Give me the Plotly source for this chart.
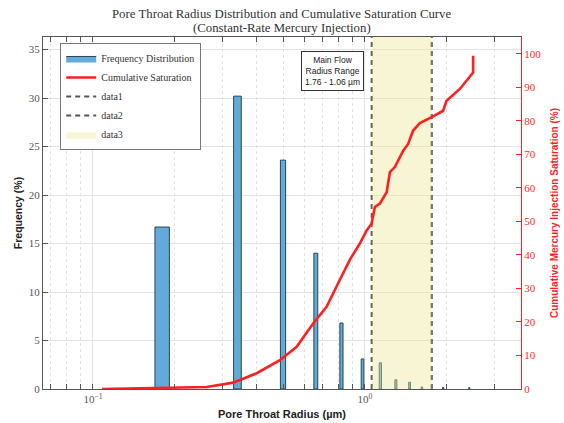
import plotly.graph_objects as go
import math

# ---- data ----
radius_bins = [0.18, 0.34, 0.50, 0.66, 0.82, 0.98, 1.14, 1.30, 1.46, 1.62, 1.94, 2.42]
frequency = [16.7, 30.2, 23.6, 14.0, 6.8, 3.1, 2.7, 0.95, 0.7, 0.2, 0.15, 0.15]
bar_width = 0.022

curve_radius = [0.108, 0.15, 0.2, 0.262, 0.328, 0.40, 0.487, 0.561, 0.646, 0.723,
                0.809, 0.881, 0.958, 1.015, 1.058, 1.088, 1.135, 1.202, 1.236, 1.289,
                1.383, 1.442, 1.505, 1.593, 1.782, 1.940, 1.996, 2.234, 2.50, 2.50]
curve_sat = [0, 0.3, 0.4, 0.6, 1.9, 4.7, 8.6, 12.6, 19.6, 24.5,
             32.6, 38.6, 43.4, 47.3, 49.3, 54.3, 55.3, 58.7, 64.7, 66.2,
             71.1, 73.1, 77.1, 79.3, 81.3, 83.0, 86.0, 89.5, 94.4, 99.4]

range_low = 1.06
range_high = 1.76

x_range = [0.0655, 3.75]
y_left_max = 36.3
y_right_max = 105
x_tickvals = [0.1, 1]
x_ticktext = ["10<sup>\u22121</sup>", "10<sup>0</sup>"]
x_minor = [0.07, 0.08, 0.09, 0.2, 0.3, 0.4, 0.5, 0.6, 0.7, 0.8, 0.9, 2, 3]

SERIF = "Liberation Serif"
SANS = "Liberation Sans"
RED = "#ff1f1f"

# bar rectangles built from data
bx, by = [], []
for r, f in zip(radius_bins, frequency):
    l, h = r - bar_width / 2, r + bar_width / 2
    bx += [l, l, h, h, l, None]
    by += [0, f, f, 0, 0, None]

fig = go.Figure()
fig.add_trace(go.Scatter(x=bx, y=by, mode="lines", fill="toself",
                         fillcolor="#63aad8", line=dict(color="#27445a", width=1),
                         name="Frequency Distribution", yaxis="y"))
fig.add_trace(go.Scatter(x=curve_radius, y=curve_sat, mode="lines",
                         line=dict(color=RED, width=2.6), name="Cumulative Saturation",
                         yaxis="y2"))
fig.add_trace(go.Scatter(x=[range_low, range_low], y=[0, y_left_max], mode="lines",
                         line=dict(color="#555555", width=2.2, dash="5px,4px"), name="data1",
                         yaxis="y"))
fig.add_trace(go.Scatter(x=[range_high, range_high], y=[0, y_left_max], mode="lines",
                         line=dict(color="#555555", width=2.2, dash="5px,4px"), name="data2",
                         yaxis="y"))
fig.add_trace(go.Scatter(x=[range_low, range_high, range_high, range_low, range_low],
                         y=[0, 0, y_left_max, y_left_max, 0], mode="lines", fill="toself",
                         fillcolor="rgba(236,232,150,0.42)", line=dict(width=0),
                         name="data3", yaxis="y"))

fig.update_layout(
    width=564, height=423,
    margin=dict(l=43, r=43, t=37, b=34, autoexpand=False),
    paper_bgcolor="white", plot_bgcolor="white",
    showlegend=True,
    legend=dict(x=0.036, y=0.983, xanchor="left", yanchor="top",
                bgcolor="white", bordercolor="#777", borderwidth=1,
                font=dict(family=SERIF, size=10, color="#333"),
                tracegroupgap=0, itemwidth=30),
    xaxis=dict(type="log", range=[math.log10(x_range[0]), math.log10(x_range[1])],
               tickvals=x_tickvals, ticktext=x_ticktext, automargin=False,
               ticks="inside", ticklen=5, tickcolor="#555",
               showline=True, linecolor="#555", linewidth=1, mirror="allticks",
               showgrid=True, gridcolor="#e4e4e4", gridwidth=1,
               minor=dict(tickvals=x_minor, ticks="inside", ticklen=3, tickcolor="#555",
                          showgrid=True, gridcolor="#e2e2e2", griddash="dot"),
               tickfont=dict(family=SERIF, size=11, color="#555"),
               title=dict(text="<b>Pore Throat Radius (\u00b5m)</b>",
                          font=dict(family=SANS, size=11, color="#222"), standoff=6),
               zeroline=False),
    yaxis=dict(range=[0, y_left_max], dtick=5, ticks="inside", ticklen=5, tickcolor="#555",
               showline=True, linecolor="#555", linewidth=1, automargin=False,
               showgrid=True, gridcolor="#e4e4e4",
               tickfont=dict(family=SERIF, size=11, color="#555"),
               title=dict(text="<b>Frequency (%)</b>",
                          font=dict(family=SANS, size=10.5, color="#222"), standoff=4),
               zeroline=False),
    yaxis2=dict(range=[0, y_right_max], dtick=10, overlaying="y", side="right",
                ticks="inside", ticklen=5, tickcolor=RED, automargin=False,
                showline=True, linecolor=RED, linewidth=1, showgrid=False,
                tickfont=dict(family=SERIF, size=11, color=RED),
                title=dict(text="<b>Cumulative Mercury Injection Saturation (%)</b>",
                           font=dict(family=SANS, size=10, color=RED), standoff=10),
                zeroline=False),
    annotations=[
        dict(x=0.5, y=1.0653, xref="paper", yref="paper", xanchor="center", yanchor="middle",
             text="Pore Throat Radius Distribution and Cumulative Saturation Curve",
             showarrow=False, font=dict(family=SERIF, size=12.8, color="#333")),
        dict(x=0.5, y=1.0256, xref="paper", yref="paper", xanchor="center", yanchor="middle",
             text="(Constant-Rate Mercury Injection)",
             showarrow=False, font=dict(family=SERIF, size=12.8, color="#333")),
        dict(x=0.605, y=0.903, xref="paper", yref="paper", xanchor="center", yanchor="middle",
             text="Main Flow<br>Radius Range<br>1.76 - 1.06 \u00b5m",
             showarrow=False, align="center",
             font=dict(family=SANS, size=8.5, color="#222"),
             bgcolor="white", bordercolor="#333", borderwidth=1, borderpad=3)],
)

fig.write_html("out.html", config={"displayModeBar": False},
               post_script="document.body.style.margin='0';document.body.style.padding='0';")
